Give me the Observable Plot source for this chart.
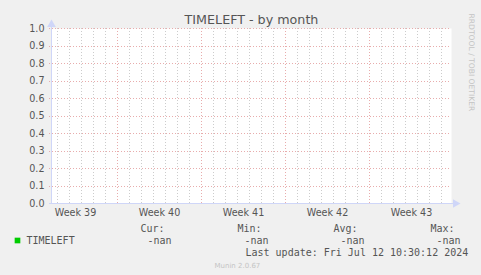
<!DOCTYPE html>
<html>
<head>
<meta charset="utf-8">
<script src="https://cdn.jsdelivr.net/npm/d3@7"></script>
<script src="https://cdn.jsdelivr.net/npm/@observablehq/plot@0.6"></script>
<style>
  html, body { margin: 0; padding: 0; background: #f0f0f0; }
  #chart svg { display: block; }
</style>
</head>
<body>
<div id="chart"></div>
<script>
// ---- data ----
const title = "TIMELEFT - by month";
const yTicks = [0.0, 0.1, 0.2, 0.3, 0.4, 0.5, 0.6, 0.7, 0.8, 0.9, 1.0];
const weekLabels = ["Week 39", "Week 40", "Week 41", "Week 42", "Week 43"];
const weekStarts = ["2024-09-23", "2024-09-30", "2024-10-07", "2024-10-14", "2024-10-21"];
const rangeStart = "2024-09-24T12:00:00Z";
const rangeEnd = "2024-10-27T20:00:00Z";
const seriesName = "TIMELEFT";
const seriesTimes = [];   // no samples: every value is nan
const seriesValues = [];
const legendHeaders = ["Cur:", "Min:", "Avg:", "Max:"];
const legendValues = ["-nan", "-nan", "-nan", "-nan"];
const lastUpdate = "Last update: Fri Jul 12 10:30:12 2024";
const version = "Munin 2.0.67";
const watermark = "RRDTOOL / TOBI OETIKER";

// ---- derived ----
const start = new Date(rangeStart), end = new Date(rangeEnd);
const weekDates = weekStarts.map(d => new Date(d + "T00:00:00Z"));
const weekCenters = weekDates.map(d => d3.utcHour.offset(d, 84));
const majors = weekDates.filter(d => d > start && d < end);
const days = d3.utcDay.range(d3.utcDay.ceil(start), end).filter(d => !majors.some(m => +m === +d));
const series = seriesTimes.map((t, i) => ({t: new Date(t), v: seriesValues[i]}));

const FONT = "DejaVu Sans, sans-serif";
const MONO = "DejaVu Sans Mono, monospace";
const TXT = "#555555";
const AXIS = "#CFD6F8";
const GRID = "#cccccc";
const MGRID = "#e8acac";

const headerDx = [89, 186, 282, 379];
const valueDx = [96, 193, 289, 385];

const chart = Plot.plot({
  width: 481,
  height: 275,
  marginLeft: 51,
  marginRight: 30,
  marginTop: 28,
  marginBottom: 72,
  style: {background: "#f0f0f0", fontFamily: FONT, overflow: "visible"},
  x: {type: "utc", domain: [start, end], axis: null},
  y: {domain: [0, 1], axis: null},
  marks: [
    Plot.frame({fill: "white", stroke: null}),
    // minor (day) grid
    Plot.ruleX(days, {stroke: GRID, strokeDasharray: "1,2", insetBottom: -2, shapeRendering: "crispEdges"}),
    // major (week) grid
    Plot.ruleX(majors, {stroke: MGRID, strokeDasharray: "1,2", insetBottom: -2, shapeRendering: "crispEdges"}),
    // horizontal grid
    Plot.ruleY(yTicks.filter(v => v > 0), {stroke: MGRID, strokeDasharray: "1,2", insetLeft: -2, shapeRendering: "crispEdges"}),
    // series (no data)
    Plot.line(series, {x: "t", y: "v", stroke: "#00cc00"}),
    // axes
    Plot.ruleX([start], {stroke: AXIS, insetTop: -3}),
    Plot.ruleY([0], {stroke: AXIS, insetLeft: -2, insetRight: -3}),
    Plot.dot([0], {frameAnchor: "top-left", dy: -4, symbol: "triangle", r: 3.2, fill: AXIS, stroke: null}),
    Plot.dot([0], {frameAnchor: "bottom-right", dx: 4, rotate: 90, symbol: "triangle", r: 3.2, fill: AXIS, stroke: null}),
    // y tick labels
    Plot.text(yTicks, {y: d => d, text: d => d3.format(".1f")(d), frameAnchor: "left", dx: -7, textAnchor: "end", fontSize: 9.6, fill: TXT}),
    // week labels
    Plot.text(weekLabels, {x: (d, i) => weekCenters[i], text: d => d, frameAnchor: "bottom", dy: 9, lineAnchor: "middle", fontSize: 9.6, fill: TXT}),
    // title
    Plot.text([title], {frameAnchor: "top", dy: -9, lineAnchor: "middle", fontSize: 12.7, fill: TXT}),
    // watermark
    Plot.text([watermark], {frameAnchor: "top-right", dx: 20, dy: -15, rotate: 90, textAnchor: "start", lineAnchor: "middle", fontSize: 7.6, fill: "#c4c4c4"}),
    // legend
    Plot.dot([seriesName], {frameAnchor: "bottom-left", dx: -34, dy: 37, symbol: "square", r: 3.2, fill: "#00cc00", stroke: null}),
    Plot.text([seriesName], {frameAnchor: "bottom-left", dx: -25, dy: 37, textAnchor: "start", lineAnchor: "middle", fontFamily: MONO, fontSize: 10, fill: TXT}),
    ...legendHeaders.map((h, i) => Plot.text([h], {frameAnchor: "bottom-left", dx: headerDx[i], dy: 25, textAnchor: "start", lineAnchor: "middle", fontFamily: MONO, fontSize: 10, fill: TXT})),
    ...legendValues.map((v, i) => Plot.text([v], {frameAnchor: "bottom-left", dx: valueDx[i], dy: 37, textAnchor: "start", lineAnchor: "middle", fontFamily: MONO, fontSize: 10, fill: TXT})),
    Plot.text([lastUpdate], {frameAnchor: "bottom-left", dx: 194, dy: 49, textAnchor: "start", lineAnchor: "middle", fontFamily: MONO, fontSize: 10, fill: TXT}),
    Plot.text([version], {frameAnchor: "bottom-left", dx: 163, dy: 62, textAnchor: "start", lineAnchor: "middle", fontSize: 7, fill: "#c4c4c4"})
  ]
});
document.getElementById("chart").appendChild(chart);
</script>
</body>
</html>
